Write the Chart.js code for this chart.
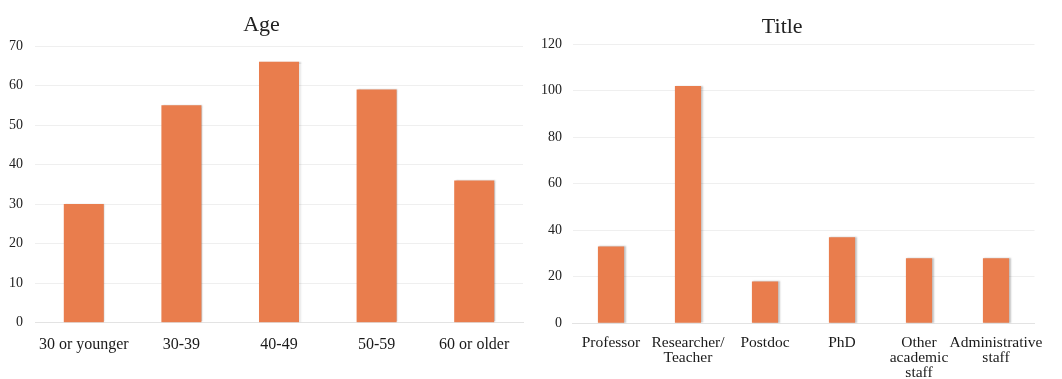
<!DOCTYPE html>
<html>
<head>
<meta charset="utf-8">
<script src="https://cdn.jsdelivr.net/npm/chart.js@4/dist/chart.umd.min.js"></script>
<style>
  html, body { margin: 0; padding: 0; background: #ffffff; }
  #wrap { position: relative; width: 1062px; height: 379px; overflow: hidden; }
  #ageChart { position: absolute; left: 0; top: 0; }
  #titleChart { position: absolute; left: 530px; top: 0; }
</style>
</head>
<body>
<div id="wrap">
  <canvas id="ageChart" width="530" height="379"></canvas>
  <canvas id="titleChart" width="532" height="379"></canvas>
</div>
<script>
// Respondents by age group
const ageCategories = ['30 or younger', '30-39', '40-49', '50-59', '60 or older'];
const ageCounts = [30, 55, 66, 59, 36];
const ageTicks = [0, 10, 20, 30, 40, 50, 60, 70];

// Respondents by job title
const titleCategories = [
  'Professor',
  ['Researcher/', 'Teacher'],
  'Postdoc',
  'PhD',
  ['Other', 'academic', 'staff'],
  ['Administrative', 'staff']
];
const titleCounts = [33, 102, 18, 37, 28, 28];
const titleTicks = [0, 20, 40, 60, 80, 100, 120];

const BAR_COLOR = '#E97D4D';
const SERIF = '"Liberation Serif", "Times New Roman", serif';

// soft grey drop shadow on the right edge of each bar
const barShadow = {
  id: 'barShadow',
  beforeDatasetDraw(chart) {
    const ctx = chart.ctx;
    ctx.save();
    ctx.shadowColor = 'rgba(90,90,90,0.35)';
    ctx.shadowOffsetX = 1.5;
    ctx.shadowOffsetY = 0;
    ctx.shadowBlur = 1.5;
  },
  afterDatasetDraw(chart) {
    chart.ctx.restore();
  }
};

function makeChart(id, opts) {
  return new Chart(document.getElementById(id), {
    type: 'bar',
    data: {
      labels: opts.labels,
      datasets: [{
        data: opts.values,
        backgroundColor: BAR_COLOR,
        borderWidth: 0,
        barPercentage: opts.barPct,
        categoryPercentage: 1
      }]
    },
    plugins: [barShadow],
    options: {
      responsive: false,
      devicePixelRatio: 1,
      animation: false,
      layout: { padding: { left: 0, right: opts.padRight, top: 0, bottom: 0 } },
      plugins: {
        legend: { display: false },
        tooltip: { enabled: false },
        title: {
          display: true,
          text: opts.title,
          color: '#222',
          font: { family: SERIF, size: 22, weight: 'normal', lineHeight: 1.2 },
          padding: { top: opts.titleTop, bottom: opts.titleBottom }
        }
      },
      scales: {
        x: {
          grid: { display: false, drawTicks: false },
          border: { display: true, color: '#e3e3e3', width: 1 },
          ticks: {
            color: '#1a1a1a',
            padding: opts.xPad,
            maxRotation: 0,
            autoSkip: false,
            font: { family: SERIF, size: opts.xFont, lineHeight: opts.xLine }
          },
          afterFit(scale) { scale.height = opts.xHeight; }
        },
        y: {
          min: 0,
          max: opts.ticks[opts.ticks.length - 1],
          afterBuildTicks(scale) { scale.ticks = opts.ticks.map(v => ({ value: v })); },
          grid: { color: '#efefef', lineWidth: 1, drawTicks: false },
          border: { display: false },
          ticks: {
            color: '#222',
            padding: opts.yPad,
            font: { family: SERIF, size: 14 }
          },
          afterFit(scale) { scale.width = opts.yWidth; }
        }
      }
    }
  });
}

makeChart('ageChart', {
  labels: ageCategories,
  values: ageCounts,
  ticks: ageTicks,
  title: 'Age',
  barPct: 0.41,
  padRight: 7,
  titleTop: 12,
  titleBottom: 7.6,
  xPad: 12,
  xFont: 16,
  xLine: 1.2,
  xHeight: 56.3,
  yPad: 12,
  yWidth: 35
});

makeChart('titleChart', {
  labels: titleCategories,
  values: titleCounts,
  ticks: titleTicks,
  title: 'Title',
  barPct: 0.34,
  padRight: 27.5,
  titleTop: 14.5,
  titleBottom: 3.1,
  xPad: 12,
  xFont: 15.5,
  xLine: '15px',
  xHeight: 55.7,
  yPad: 10.5,
  yWidth: 42.5
});
</script>
</body>
</html>
